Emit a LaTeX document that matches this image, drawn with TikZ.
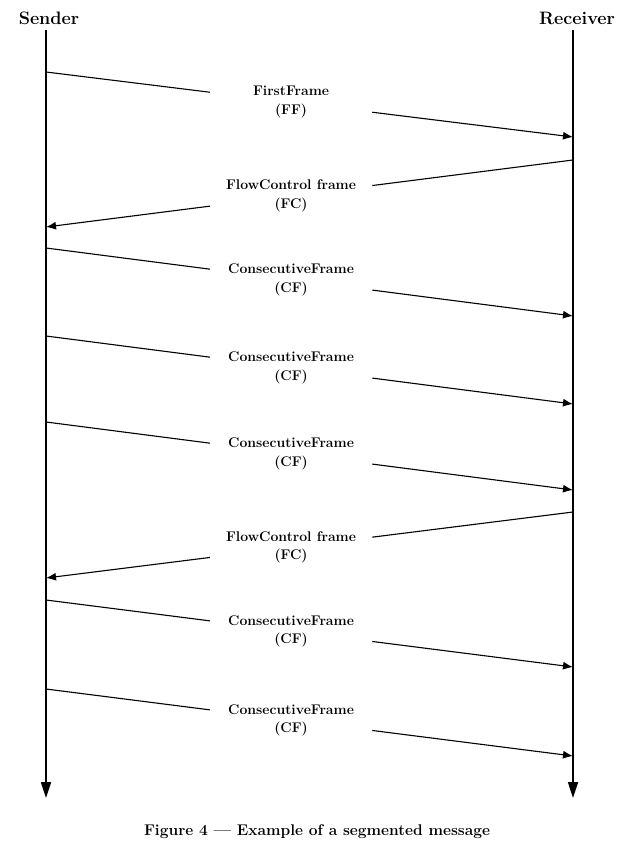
\documentclass[tikz,border=0pt]{standalone}
\usepackage{tikz}
\usetikzlibrary{arrows.meta,calc}

\begin{document}
\begin{tikzpicture}[x=1pt,y=-1pt,
    life/.style={line width=1.7pt,-{Triangle[length=16pt,width=10pt]}},
    hop/.style={line width=1.1pt},
    hoptip/.style={line width=1.1pt,-{Latex[length=10pt,width=8pt]}},
    msg/.style={minimum width=162pt,minimum height=40pt,inner sep=0pt,align=center,
      font=\fontsize{14}{18.5}\selectfont\bfseries},
    party/.style={font=\fontsize{18}{21}\selectfont\bfseries}]
        \useasboundingbox (0,0) rectangle (644,851);
        % lifelines
        \node[party] (snd) at (49,18) {Sender};
        \node[party] (rcv) at (577,18) {Receiver};
        \coordinate (sTop) at (46,30);
        \coordinate (sEnd) at (46,798);
        \coordinate (rTop) at (573,30);
        \coordinate (rEnd) at (573,798);
        \draw[life] (sTop) -- (sEnd);
        \draw[life] (rTop) -- (rEnd);
        % end points on the lifelines
        \coordinate (s1) at (46,72);   \coordinate (r1) at (573,137);
        \coordinate (s2) at (46,227);  \coordinate (r2) at (573,160);
        \coordinate (s3) at (46,248);  \coordinate (r3) at (573,316);
        \coordinate (s4) at (46,336);  \coordinate (r4) at (573,404);
        \coordinate (s5) at (46,422);  \coordinate (r5) at (573,490);
        \coordinate (s6) at (46,578);  \coordinate (r6) at (573,512);
        \coordinate (s7) at (46,600);  \coordinate (r7) at (573,667);
        \coordinate (s8) at (46,689);  \coordinate (r8) at (573,756);
        % frames
        \node[msg] (ff) at ($(s1)!0.465!(r1)$) {FirstFrame\\(FF)};
        \draw[hop] (s1) -- (ff);
        \draw[hoptip] (ff) -- (r1);
        \node[msg] (fc1) at ($(s2)!0.465!(r2)$) {FlowControl frame\\(FC)};
        \draw[hop] (r2) -- (fc1);
        \draw[hoptip] (fc1) -- (s2);
        \node[msg] (cf1) at ($(s3)!0.465!(r3)$) {ConsecutiveFrame\\(CF)};
        \draw[hop] (s3) -- (cf1);
        \draw[hoptip] (cf1) -- (r3);
        \node[msg] (cf2) at ($(s4)!0.465!(r4)$) {ConsecutiveFrame\\(CF)};
        \draw[hop] (s4) -- (cf2);
        \draw[hoptip] (cf2) -- (r4);
        \node[msg] (cf3) at ($(s5)!0.465!(r5)$) {ConsecutiveFrame\\(CF)};
        \draw[hop] (s5) -- (cf3);
        \draw[hoptip] (cf3) -- (r5);
        \node[msg] (fc2) at ($(s6)!0.465!(r6)$) {FlowControl frame\\(FC)};
        \draw[hop] (r6) -- (fc2);
        \draw[hoptip] (fc2) -- (s6);
        \node[msg] (cf4) at ($(s7)!0.465!(r7)$) {ConsecutiveFrame\\(CF)};
        \draw[hop] (s7) -- (cf4);
        \draw[hoptip] (cf4) -- (r7);
        \node[msg] (cf5) at ($(s8)!0.465!(r8)$) {ConsecutiveFrame\\(CF)};
        \draw[hop] (s8) -- (cf5);
        \draw[hoptip] (cf5) -- (r8);
        % caption
        \node[font=\fontsize{15.5}{18}\selectfont\bfseries] (cap) at (317,832)
          {Figure 4 --- Example of a segmented message};
      \end{tikzpicture}
\end{document}
